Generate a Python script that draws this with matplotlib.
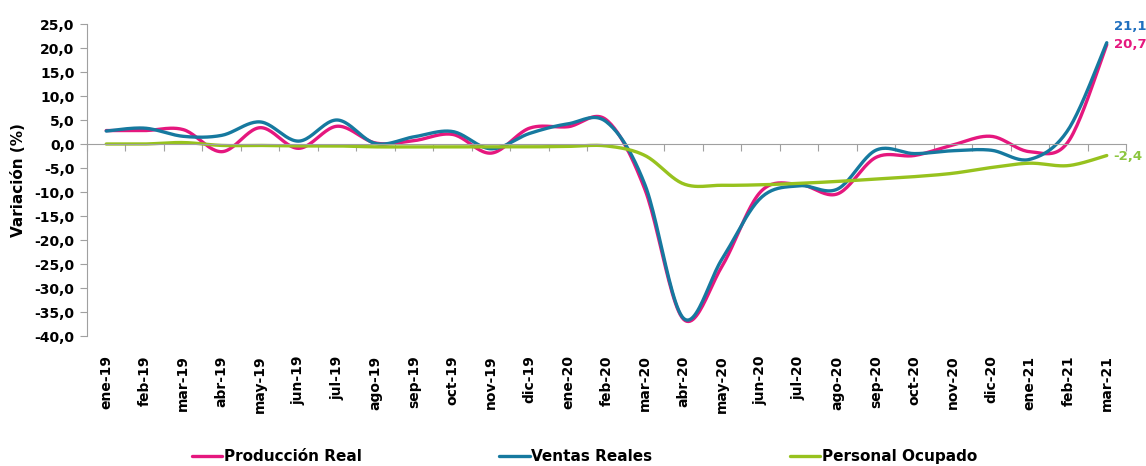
import numpy as np
import matplotlib
matplotlib.use("Agg")
import matplotlib.pyplot as plt
from matplotlib.ticker import FuncFormatter, FixedLocator

months = ["ene-19", "feb-19", "mar-19", "abr-19", "may-19", "jun-19", "jul-19",
          "ago-19", "sep-19", "oct-19", "nov-19", "dic-19", "ene-20", "feb-20",
          "mar-20", "abr-20", "may-20", "jun-20", "jul-20", "ago-20", "sep-20",
          "oct-20", "nov-20", "dic-20", "ene-21", "feb-21", "mar-21"]

produccion = [2.8, 2.8, 3.0, -1.6, 3.4, -0.9, 3.7, 0.2, 0.7, 2.0, -1.9, 3.3, 3.6, 5.0,
              -9.5, -36.5, -25.5, -10.0, -8.4, -10.4, -2.8, -2.4, -0.2, 1.6, -1.6, 0.5, 20.7]
ventas = [2.7, 3.3, 1.6, 1.8, 4.6, 0.6, 5.0, 0.1, 1.5, 2.6, -1.0, 2.2, 4.2, 4.6,
          -8.5, -36.3, -24.0, -11.3, -8.7, -9.4, -1.3, -2.0, -1.4, -1.3, -3.2, 3.0, 21.1]
personal = [0.0, 0.0, 0.3, -0.3, -0.3, -0.4, -0.4, -0.6, -0.6, -0.6, -0.6, -0.6, -0.5, -0.4,
            -2.4, -8.3, -8.6, -8.5, -8.2, -7.8, -7.3, -6.8, -6.1, -4.9, -4.0, -4.5, -2.4]

PINK = "#e5177e"
BLUE = "#16799f"
GREEN = "#97c21e"


def smooth(xs, ys, n=24):
    # excel-style smoothed line (catmull-rom through the points)
    p = np.column_stack([xs, ys]).astype(float)
    out = []
    for i in range(len(p) - 1):
        p0 = p[i - 1] if i > 0 else p[i]
        p1, p2 = p[i], p[i + 1]
        p3 = p[i + 2] if i + 2 < len(p) else p[i + 1]
        c1 = p1 + (p2 - p0) / 6
        c2 = p2 - (p3 - p1) / 6
        t = np.linspace(0, 1, n, endpoint=False)[:, None]
        seg = ((1 - t) ** 3) * p1 + 3 * ((1 - t) ** 2) * t * c1 + 3 * (1 - t) * t ** 2 * c2 + t ** 3 * p2
        out.append(seg)
    out.append(p[-1:])
    out = np.vstack(out)
    return out[:, 0], out[:, 1]


x = np.arange(len(months))

fig = plt.figure(figsize=(11.46, 4.66), dpi=100)
ax = fig.add_axes([87 / 1146, 1 - 336 / 466, (1126 - 87) / 1146, 312 / 466])

for vals, col, lab in [(produccion, PINK, "Producción Real"),
                       (ventas, BLUE, "Ventas Reales"),
                       (personal, GREEN, "Personal Ocupado")]:
    sx, sy = smooth(x, vals)
    ax.plot(sx, sy, color=col, lw=2.4, label=lab, solid_capstyle="round")

ax.set_xlim(-0.5, len(months) - 0.5)
ax.set_ylim(-40, 25)
ax.set_yticks(np.arange(-40, 26, 5))
ax.yaxis.set_major_formatter(FuncFormatter(lambda v, p: f"{v:.1f}".replace(".", ",")))
ax.tick_params(axis="y", direction="out", length=5, color="#a0a0a0", labelsize=10, pad=4)
for t in ax.get_yticklabels():
    t.set_fontweight("bold")

for s in ["top", "right"]:
    ax.spines[s].set_visible(False)
ax.spines["left"].set_color("#a0a0a0")
ax.spines["bottom"].set_position(("data", 0))
ax.spines["bottom"].set_color("#a0a0a0")
ax.xaxis.set_major_locator(FixedLocator(np.arange(-0.5, len(months), 1.0)))
ax.tick_params(axis="x", direction="out", length=5, color="#a0a0a0", labelbottom=False)

sec = ax.secondary_xaxis("bottom")
sec.set_xticks(x)
sec.set_xticklabels(months, rotation=90, fontsize=10, fontweight="bold")
sec.tick_params(length=0, pad=14)
sec.spines["bottom"].set_visible(False)

ax.set_ylabel("Variación (%)", fontsize=11, fontweight="bold", labelpad=6)

lbl = dict(textcoords="offset points", fontsize=9.5, fontweight="bold",
           va="center", ha="left", annotation_clip=False)
ax.annotate(f"{ventas[-1]:.1f}".replace(".", ","), (x[-1], ventas[-1]), xytext=(5, 12),
            color="#1f6fbf", **lbl)
ax.annotate(f"{produccion[-1]:.1f}".replace(".", ","), (x[-1], produccion[-1]), xytext=(5, 0),
            color=PINK, **lbl)
ax.annotate(f"{personal[-1]:.1f}".replace(".", ","), (x[-1], personal[-1]), xytext=(5, -1),
            color="#8cc63f", **lbl)

leg = fig.legend(loc="center", bbox_to_anchor=(0.51, 0.02), ncol=3, frameon=False,
                 handlelength=2.0, handletextpad=0.1, columnspacing=9.0,
                 prop={"weight": "bold", "size": 11})

fig.savefig("out.png", dpi=100)
